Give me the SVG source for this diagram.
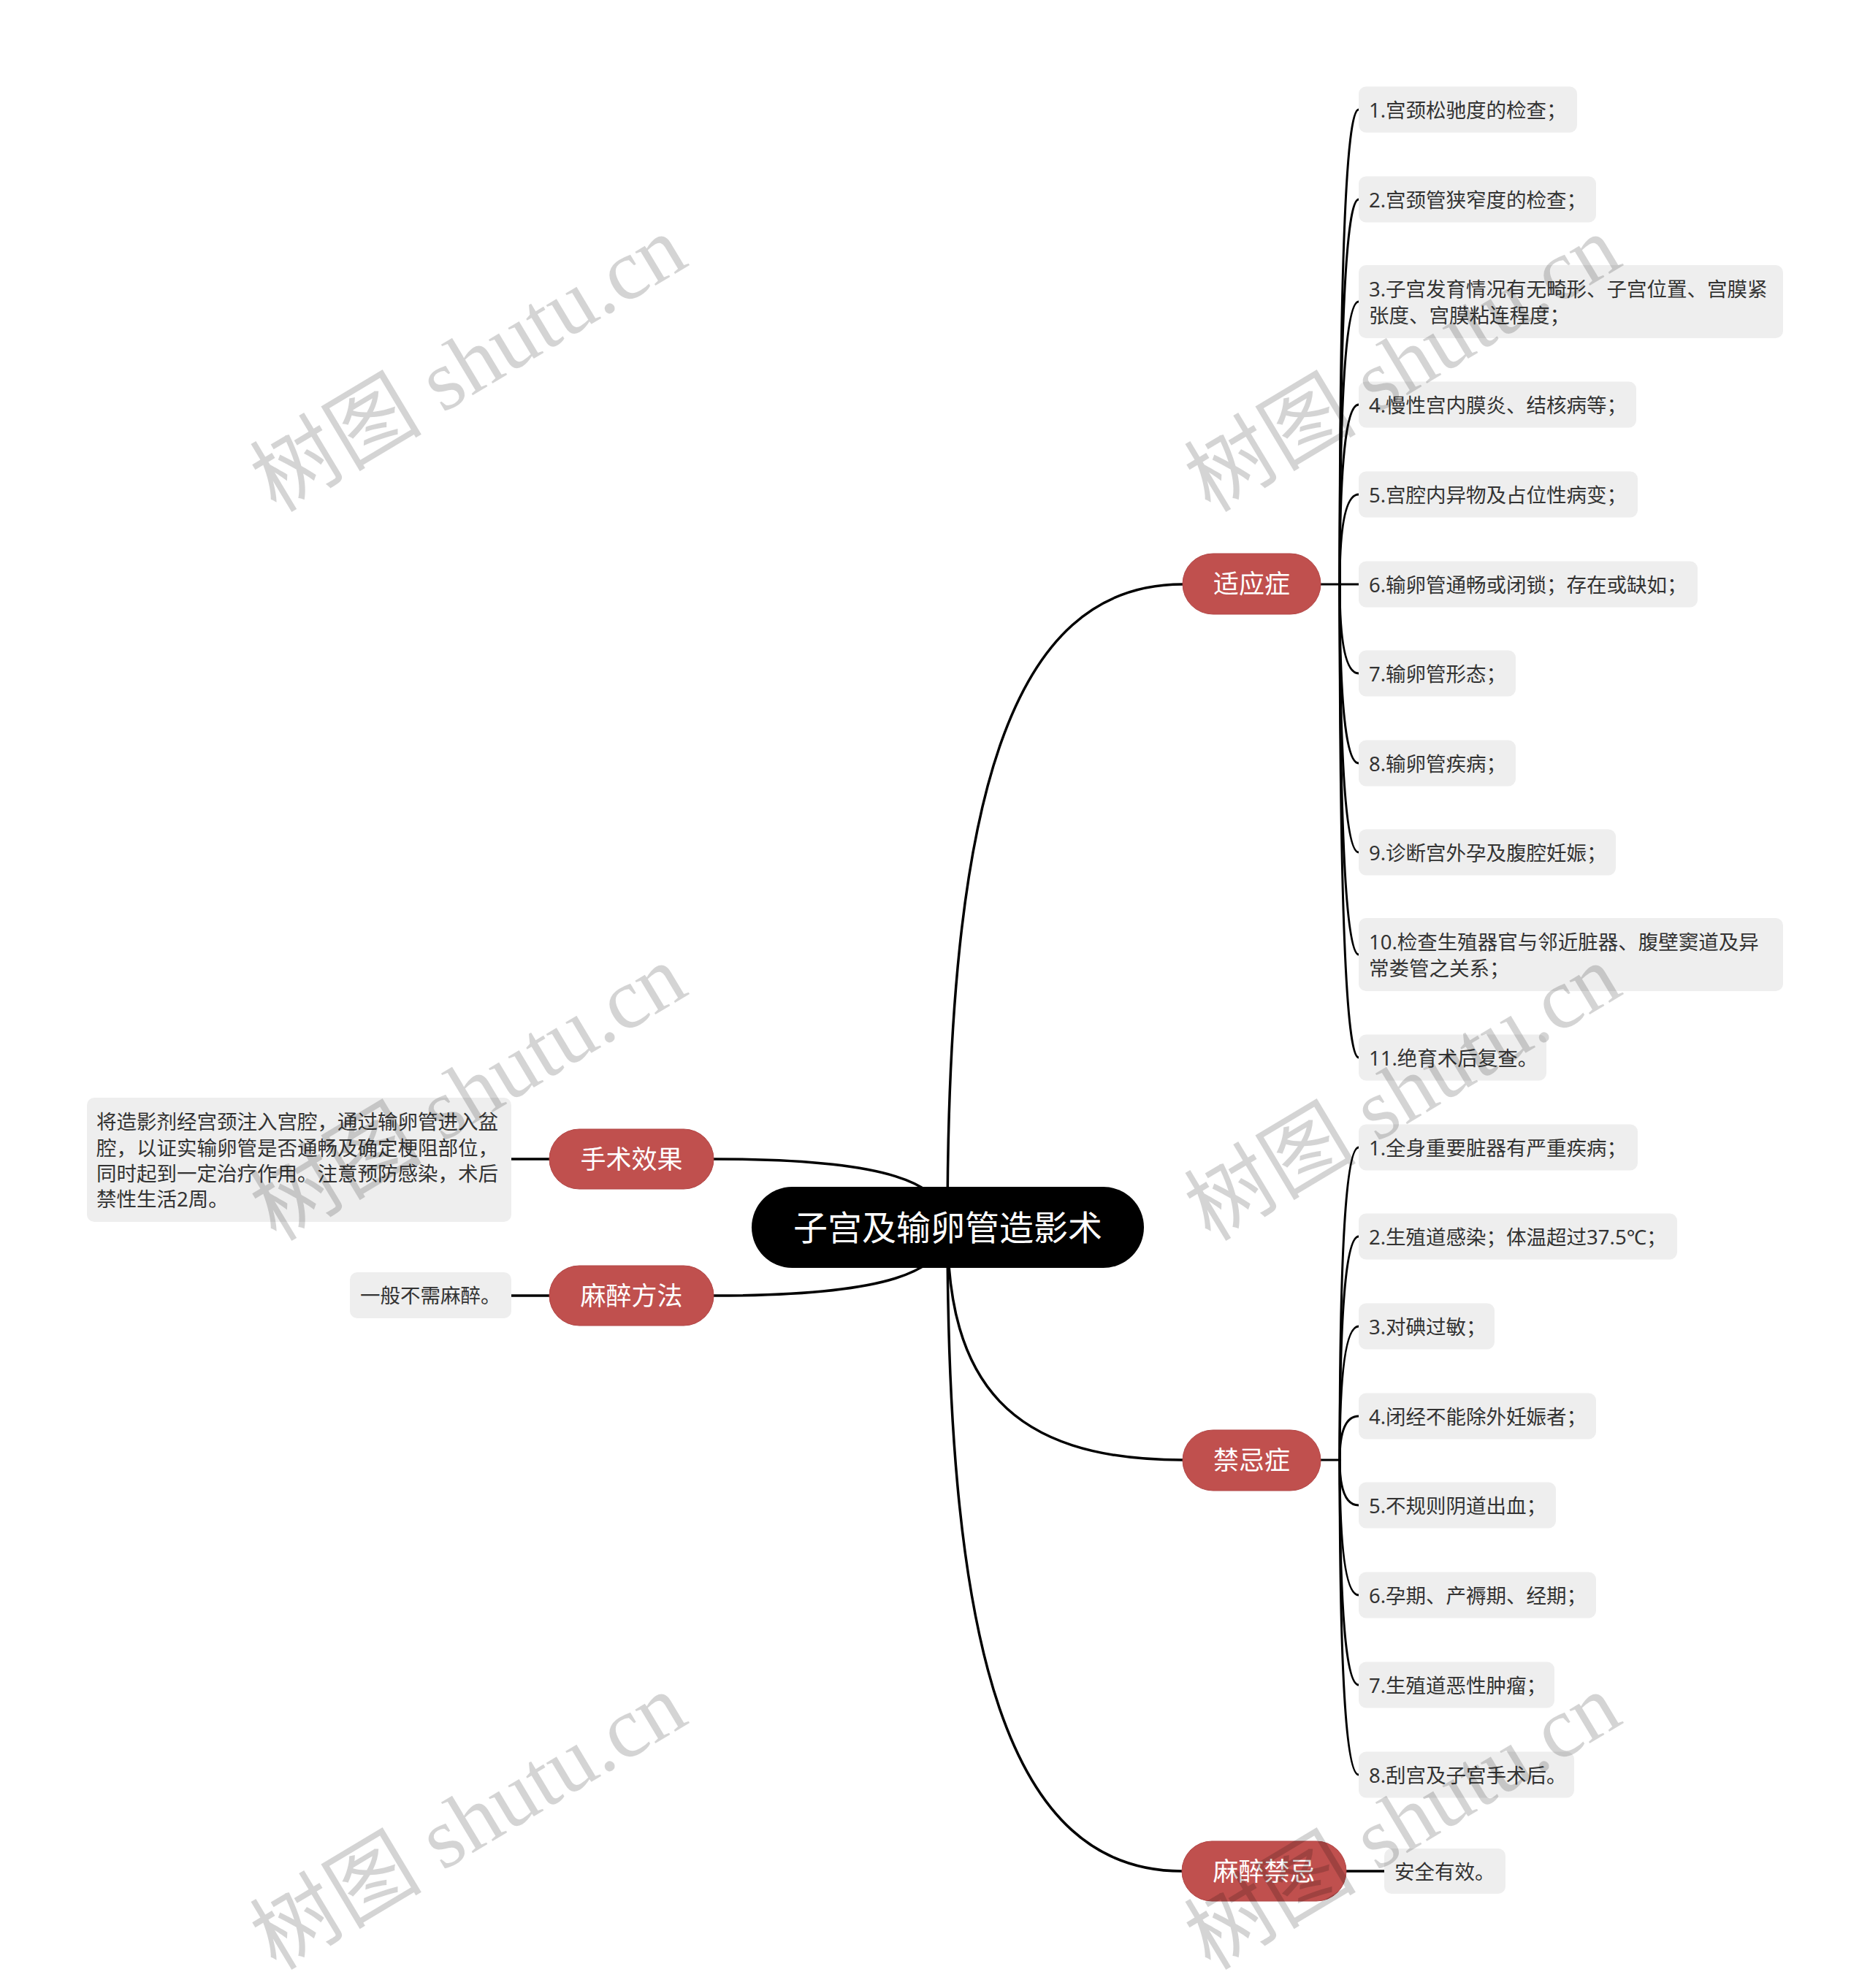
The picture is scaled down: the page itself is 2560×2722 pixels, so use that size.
<svg xmlns="http://www.w3.org/2000/svg" width="2560" height="2722" viewBox="0 0 2560 2722">
<style>
.bg{fill:#ffffff}
.conn path{fill:none;stroke:#000;stroke-width:3.5;stroke-linecap:round}
.conn .lf{stroke-width:3}
.root{fill:#000}
.rt{fill:#fff;font-family:"Noto Sans","Noto Sans CJK SC",sans-serif;font-size:47px;text-anchor:middle}
.pill{fill:#c0504e;stroke:#b24646;stroke-width:1}
.pt{fill:#fff;font-family:"Noto Sans","Noto Sans CJK SC",sans-serif;font-size:35px;text-anchor:middle}
.leaf{fill:#eeeeee}
.lt{fill:#333;font-family:"Noto Sans","Noto Sans CJK SC",sans-serif;font-size:27.5px}
.wm{fill:#000;fill-opacity:.17;font-family:"Liberation Serif","Noto Sans CJK SC",serif;font-size:118px}
</style>
<rect class="bg" x="0" y="0" width="2560" height="2722"/>
<g id="connectors" class="conn">
<path d="M1297 1680 C1297 1100 1380 800 1619 800"/>
<path d="M1297 1680 C1297 1891 1380 1999 1619 1999"/>
<path d="M1297 1680 C1297 2261 1380 2562 1618 2562"/>
<path d="M1297 1680 C1297 1619 1214 1587 977 1587"/>
<path d="M1297 1680 C1297 1742 1214 1774 977 1774"/>
<path d="M752 1587 L700 1587"/>
<path d="M752 1774 L700 1774"/>
<path d="M1843 2562 L1895 2562"/>
<path class="lf" d="M1808 800 L1834 800"/>
<path class="lf" d="M1834 800 Q1834 150 1860 150"/>
<path class="lf" d="M1834 800 Q1834 273 1860 273"/>
<path class="lf" d="M1834 800 Q1834 413 1860 413"/>
<path class="lf" d="M1834 800 Q1834 554 1860 554"/>
<path class="lf" d="M1834 800 Q1834 677 1860 677"/>
<path class="lf" d="M1834 800 L1860 800"/>
<path class="lf" d="M1834 800 Q1834 922 1860 922"/>
<path class="lf" d="M1834 800 Q1834 1045 1860 1045"/>
<path class="lf" d="M1834 800 Q1834 1167 1860 1167"/>
<path class="lf" d="M1834 800 Q1834 1307 1860 1307"/>
<path class="lf" d="M1834 800 Q1834 1448 1860 1448"/>
<path class="lf" d="M1808 1999 L1834 1999"/>
<path class="lf" d="M1834 1999 Q1834 1571 1860 1571"/>
<path class="lf" d="M1834 1999 Q1834 1693 1860 1693"/>
<path class="lf" d="M1834 1999 Q1834 1816 1860 1816"/>
<path class="lf" d="M1834 1999 Q1834 1939 1860 1939"/>
<path class="lf" d="M1834 1999 Q1834 2061 1860 2061"/>
<path class="lf" d="M1834 1999 Q1834 2184 1860 2184"/>
<path class="lf" d="M1834 1999 Q1834 2307 1860 2307"/>
<path class="lf" d="M1834 1999 Q1834 2430 1860 2430"/>
</g>
<g id="root"><rect class="root" x="1029" y="1625" width="537" height="111" rx="55.5"/><text class="rt" x="1297.5" y="1698">子宫及输卵管造影术</text></g>
<g id="b-indication"><rect class="pill" x="1619" y="758" width="189" height="83" rx="41.5"/><text class="pt" x="1713.5" y="812">适应症</text></g>
<g id="b-contra"><rect class="pill" x="1619" y="1958" width="189" height="83" rx="41.5"/><text class="pt" x="1713.5" y="2012">禁忌症</text></g>
<g id="b-anes-contra"><rect class="pill" x="1618" y="2521" width="225" height="82" rx="41"/><text class="pt" x="1730.5" y="2575">麻醉禁忌</text></g>
<g id="b-effect"><rect class="pill" x="752" y="1546" width="225" height="82" rx="41"/><text class="pt" x="864.5" y="1600">手术效果</text></g>
<g id="b-anes"><rect class="pill" x="752" y="1733" width="225" height="82" rx="41"/><text class="pt" x="864.5" y="1787">麻醉方法</text></g>
<g id="l-effect"><rect class="leaf" x="119" y="1503" width="581" height="170" rx="10"/><text class="lt" x="132"><tspan x="132" y="1546">将造影剂经宫颈注入宫腔，通过输卵管进入盆</tspan><tspan x="132" y="1582">腔，以证实输卵管是否通畅及确定梗阻部位，</tspan><tspan x="132" y="1617">同时起到一定治疗作用。注意预防感染，术后</tspan><tspan x="132" y="1652">禁性生活2周。</tspan></text></g>
<g id="l-anes"><rect class="leaf" x="479" y="1742" width="221" height="63" rx="10"/><text class="lt" x="493" y="1784">一般不需麻醉。</text></g>
<g id="l-anes-contra"><rect class="leaf" x="1895" y="2531" width="166" height="62" rx="10"/><text class="lt" x="1909" y="2572.5">安全有效。</text></g>
<g id="s1"><rect class="leaf" x="1860" y="118.5" width="299" height="63" rx="10"/><text class="lt" x="1874" y="160.5">1.宫颈松驰度的检查；</text></g>
<g id="s2"><rect class="leaf" x="1860" y="241.5" width="325" height="63" rx="10"/><text class="lt" x="1874" y="283.5">2.宫颈管狭窄度的检查；</text></g>
<g id="s3"><rect class="leaf" x="1860" y="363" width="581" height="100" rx="10"/><text class="lt"><tspan x="1874" y="405.5">3.子宫发育情况有无畸形、子宫位置、宫膜紧</tspan><tspan x="1874" y="441.5">张度、宫膜粘连程度；</tspan></text></g>
<g id="s4"><rect class="leaf" x="1860" y="522.5" width="380" height="63" rx="10"/><text class="lt" x="1874" y="564.5">4.慢性宫内膜炎、结核病等；</text></g>
<g id="s5"><rect class="leaf" x="1860" y="645.5" width="382" height="63" rx="10"/><text class="lt" x="1874" y="687.5">5.宫腔内异物及占位性病变；</text></g>
<g id="s6"><rect class="leaf" x="1860" y="768.5" width="464" height="63" rx="10"/><text class="lt" x="1874" y="810.5">6.输卵管通畅或闭锁；存在或缺如；</text></g>
<g id="s7"><rect class="leaf" x="1860" y="890.5" width="215" height="63" rx="10"/><text class="lt" x="1874" y="932.5">7.输卵管形态；</text></g>
<g id="s8"><rect class="leaf" x="1860" y="1013.5" width="215" height="63" rx="10"/><text class="lt" x="1874" y="1055.5">8.输卵管疾病；</text></g>
<g id="s9"><rect class="leaf" x="1860" y="1135.5" width="352" height="63" rx="10"/><text class="lt" x="1874" y="1177.5">9.诊断宫外孕及腹腔妊娠；</text></g>
<g id="s10"><rect class="leaf" x="1860" y="1257" width="581" height="100" rx="10"/><text class="lt"><tspan x="1874" y="1299.5">10.检查生殖器官与邻近脏器、腹壁窦道及异</tspan><tspan x="1874" y="1335.5">常娄管之关系；</tspan></text></g>
<g id="s11"><rect class="leaf" x="1860" y="1416.5" width="257" height="63" rx="10"/><text class="lt" x="1874" y="1458.5">11.绝育术后复查。</text></g>
<g id="k1"><rect class="leaf" x="1860" y="1539.5" width="382" height="63" rx="10"/><text class="lt" x="1874" y="1581.5">1.全身重要脏器有严重疾病；</text></g>
<g id="k2"><rect class="leaf" x="1860" y="1661.5" width="436" height="63" rx="10"/><text class="lt" x="1874" y="1703.5">2.生殖道感染；体温超过37.5℃；</text></g>
<g id="k3"><rect class="leaf" x="1860" y="1784.5" width="186" height="63" rx="10"/><text class="lt" x="1874" y="1826.5">3.对碘过敏；</text></g>
<g id="k4"><rect class="leaf" x="1860" y="1907.5" width="325" height="63" rx="10"/><text class="lt" x="1874" y="1949.5">4.闭经不能除外妊娠者；</text></g>
<g id="k5"><rect class="leaf" x="1860" y="2029.5" width="270" height="63" rx="10"/><text class="lt" x="1874" y="2071.5">5.不规则阴道出血；</text></g>
<g id="k6"><rect class="leaf" x="1860" y="2152.5" width="325" height="63" rx="10"/><text class="lt" x="1874" y="2194.5">6.孕期、产褥期、经期；</text></g>
<g id="k7"><rect class="leaf" x="1860" y="2275.5" width="268" height="63" rx="10"/><text class="lt" x="1874" y="2317.5">7.生殖道恶性肿瘤；</text></g>
<g id="k8"><rect class="leaf" x="1860" y="2398.5" width="295" height="63" rx="10"/><text class="lt" x="1874" y="2440.5">8.刮宫及子宫手术后。</text></g>
<g id="watermarks">
<text class="wm" x="378" y="703" transform="rotate(-31 378 703)">树图 shutu.cn</text>
<text class="wm" x="1657" y="703" transform="rotate(-31 1657 703)">树图 shutu.cn</text>
<text class="wm" x="378" y="1701" transform="rotate(-31 378 1701)">树图 shutu.cn</text>
<text class="wm" x="1657" y="1701" transform="rotate(-31 1657 1701)">树图 shutu.cn</text>
<text class="wm" x="378" y="2699" transform="rotate(-31 378 2699)">树图 shutu.cn</text>
<text class="wm" x="1657" y="2699" transform="rotate(-31 1657 2699)">树图 shutu.cn</text>
</g>
</svg>
